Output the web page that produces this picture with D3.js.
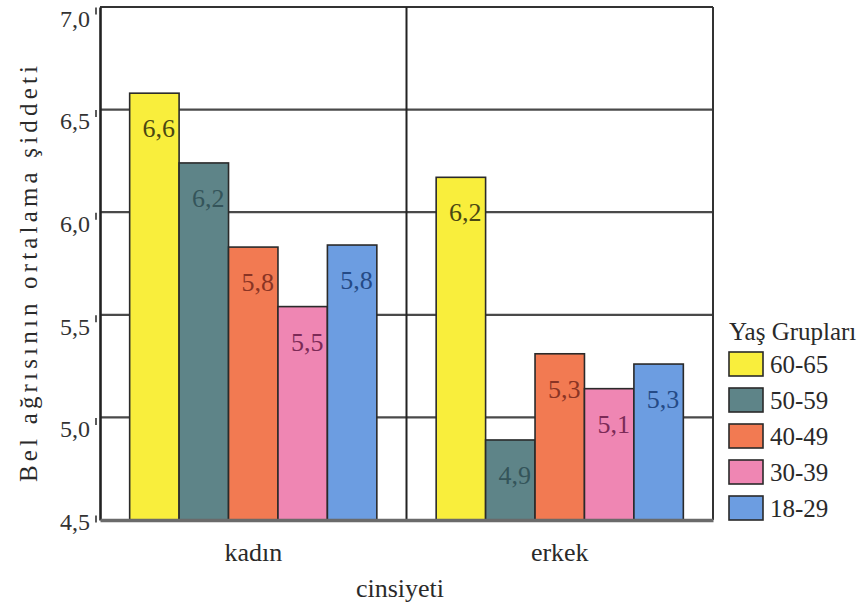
<!DOCTYPE html>
<html>
<head>
<meta charset="utf-8">
<script src="https://cdn.jsdelivr.net/npm/d3@7"></script>
<style>
  html, body { margin: 0; padding: 0; background: #ffffff; }
  svg { display: block; }
  svg text { font-family: "Liberation Serif", "DejaVu Serif", "Times New Roman", serif !important; }
</style>
</head>
<body>
<svg id="chart" width="866" height="610"></svg>
<script>
// Mean low-back pain score by sex and age group
const categories = ["kadın", "erkek"];
const groups = ["60-65", "50-59", "40-49", "30-39", "18-29"];
const values60_65 = [6.58, 6.17];
const values50_59 = [6.24, 4.89];
const values40_49 = [5.83, 5.31];
const values30_39 = [5.54, 5.14];
const values18_29 = [5.84, 5.26];
const yTicks = [4.5, 5.0, 5.5, 6.0, 6.5, 7.0];

const seriesValues = [values60_65, values50_59, values40_49, values30_39, values18_29];
const fills = ["#f9ee3c", "#5e8488", "#f27a52", "#ef86b3", "#6c9de1"];
const labelInk = ["#4a4712", "#34545a", "#8a3424", "#7c2a57", "#244a86"];
const serif = "'Liberation Serif', 'DejaVu Serif', serif";

const svg = d3.select("#chart").style("font-family", serif);
const plotLeft = 100, plotRight = 713, plotTop = 7, plotBottom = 520;

const x = d3.scaleBand().domain(categories).range([plotLeft, plotRight]).padding(0);
const xg = d3.scaleBand().domain(groups).range([0, x.bandwidth()])
  .paddingInner(0).paddingOuter(0.6);
const y = d3.scaleLinear().domain([4.5, 7.0]).range([plotBottom, plotTop]);

const comma = v => d3.format(".1f")(v).replace(".", ",");

// horizontal grid lines
svg.append("g").selectAll("line")
  .data(yTicks.filter(t => t > 4.5 && t < 7.0))
  .join("line")
  .attr("x1", plotLeft).attr("x2", plotRight)
  .attr("y1", d => y(d)).attr("y2", d => y(d))
  .attr("stroke", "#4a4a4a").attr("stroke-width", 2.2);

// bars
const rows = [];
categories.forEach((c, ci) => {
  groups.forEach((g, gi) => rows.push({ c, g, gi, v: seriesValues[gi][ci] }));
});

svg.append("g").selectAll("rect")
  .data(rows)
  .join("rect")
  .attr("x", d => x(d.c) + xg(d.g))
  .attr("width", xg.bandwidth())
  .attr("y", d => y(d.v))
  .attr("height", d => plotBottom - y(d.v))
  .attr("fill", d => fills[d.gi])
  .attr("stroke", "#2a2a2a").attr("stroke-width", 1.6);

// value labels inside bars
svg.append("g").selectAll("text")
  .data(rows)
  .join("text")
  .attr("x", d => x(d.c) + xg(d.g) + xg.bandwidth() - 4)
  .attr("y", d => y(d.v) + 44)
  .attr("text-anchor", "end")
  .style("font-size", "26px")
  .attr("fill", d => labelInk[d.gi])
  .text(d => comma(d.v));

// frame: top, right, category divider
svg.append("line").attr("x1", plotLeft).attr("x2", plotRight).attr("y1", plotTop).attr("y2", plotTop)
  .attr("stroke", "#333").attr("stroke-width", 2);
svg.append("line").attr("x1", plotRight).attr("x2", plotRight).attr("y1", plotTop).attr("y2", plotBottom)
  .attr("stroke", "#333").attr("stroke-width", 2);
svg.append("line").attr("x1", x("erkek")).attr("x2", x("erkek")).attr("y1", plotTop).attr("y2", plotBottom)
  .attr("stroke", "#222").attr("stroke-width", 2);

// y axis
const yAxis = d3.axisLeft(y).tickValues(yTicks).tickSize(0).tickPadding(10).tickFormat(comma);
const gy = svg.append("g").attr("transform", `translate(${plotLeft},0)`).call(yAxis);
gy.attr("font-family", null).attr("font-size", null);
gy.select(".domain").attr("stroke", "#222").attr("stroke-width", 2.6);
gy.selectAll(".tick text")
  .style("font-size", "24px").attr("fill", "#333")
  .attr("dy", d => d === 4.5 ? "0.4em" : "0.8em");
gy.selectAll(".tick").append("line")
  .attr("x1", -4).attr("x2", -4)
  .attr("y1", d => d === 4.5 ? -5 : 0)
  .attr("y2", d => d === 4.5 ? 2 : 7)
  .attr("stroke", "#333").attr("stroke-width", 1.6);

// x axis
const xAxis = d3.axisBottom(x).tickSize(0).tickPadding(23);
const gx = svg.append("g").attr("transform", `translate(0,${plotBottom})`).call(xAxis);
gx.attr("font-family", null).attr("font-size", null);
gx.select(".domain").attr("stroke", "#6a6a6a").attr("stroke-width", 3.4);
gx.selectAll(".tick text")
  .style("font-size", "26px").attr("fill", "#2a2a2a");

// axis titles
svg.append("text")
  .attr("x", 400).attr("y", 597)
  .attr("text-anchor", "middle")
  .style("font-size", "26px").attr("fill", "#2a2a2a")
  .text("cinsiyeti");

svg.append("text")
  .attr("transform", "translate(37,274) rotate(-90)")
  .attr("text-anchor", "middle")
  .style("font-size", "25px").attr("fill", "#2a2a2a")
  .attr("textLength", 416).attr("lengthAdjust", "spacing")
  .text("Bel ağrısının ortalama şiddeti");

// legend
const legend = svg.append("g").attr("transform", "translate(729,0)");
legend.append("text")
  .attr("x", 0).attr("y", 340)
  .style("font-size", "25px").attr("fill", "#2a2a2a")
  .text("Yaş Grupları");
const items = legend.selectAll("g.item").data(groups).join("g")
  .attr("class", "item")
  .attr("transform", (d, i) => `translate(0,${352 + i * 36})`);
items.append("rect")
  .attr("width", 34).attr("height", 24)
  .attr("fill", (d, i) => fills[i])
  .attr("stroke", "#2a2a2a").attr("stroke-width", 1.6);
items.append("text")
  .attr("x", 41).attr("y", 21)
  .style("font-size", "25px").attr("fill", "#2a2a2a")
  .text(d => d);
</script>
</body>
</html>
